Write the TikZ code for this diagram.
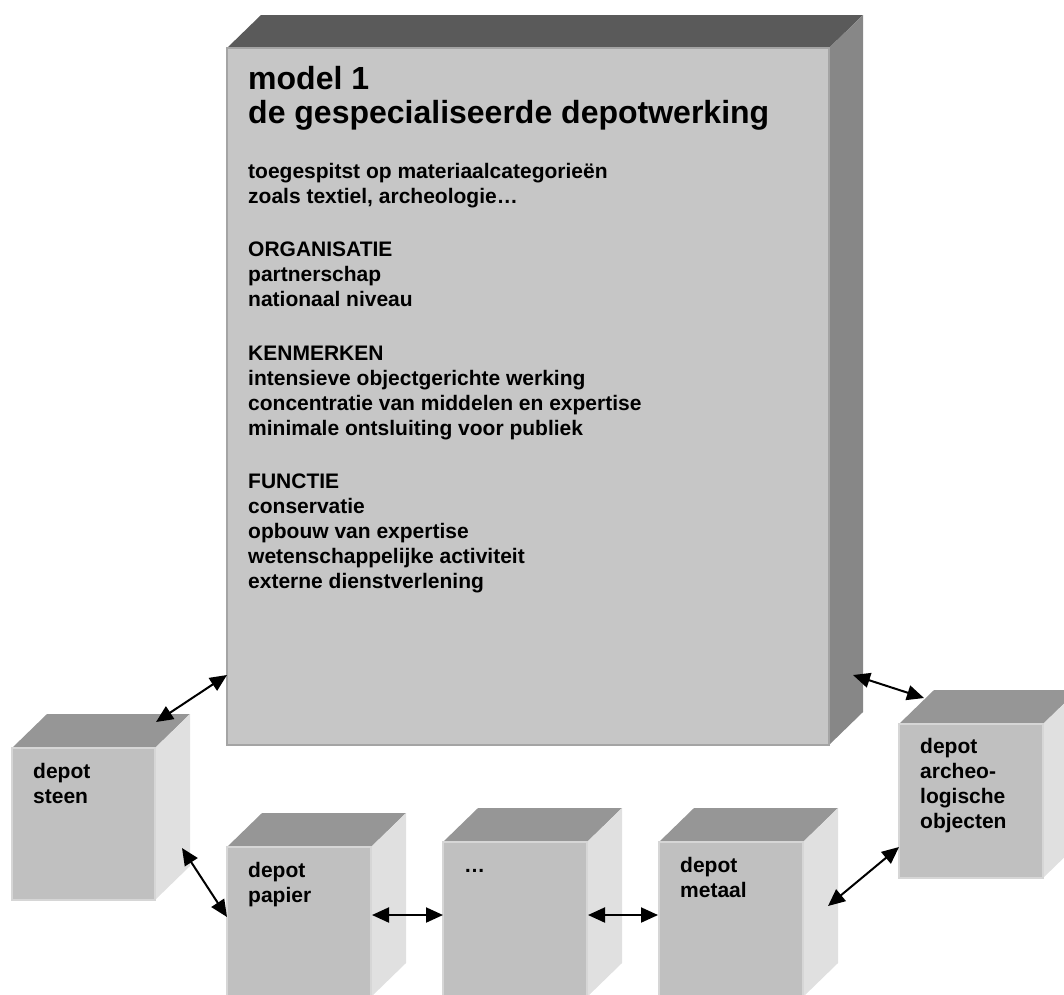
\documentclass[tikz,border=0pt]{standalone}
\usepackage{fontspec}
\setmainfont{Liberation Sans}
\usetikzlibrary{arrows.meta,calc}
\definecolor{bigfrontc}{HTML}{C6C6C6}
\definecolor{bigedgec}{HTML}{A4A4A4}
\definecolor{bigtopc}{HTML}{5A5A5A}
\definecolor{bigsidec}{HTML}{878787}
\definecolor{smfrontc}{HTML}{C0C0C0}
\definecolor{smedgec}{HTML}{D6D6D6}
\definecolor{smtopc}{HTML}{969696}
\definecolor{smsidec}{HTML}{E0E0E0}
% #7 = baseline of the last text line
\newcommand\depotbox[7]{%
  \fill[smtopc] (#2,#3) -- ++(35,-34) -- ++(#4,0) -- ++(-35,34) -- cycle;
  \fill[smsidec] (#2+#4,#3) -- ++(35,-34) -- ++(0,#5) -- ++(-35,34) -- cycle;
  \node[smallfront, minimum width=#4pt, minimum height=#5pt] (#1) at (#2,#3) {};
  \node[smalltext] (#1-t) at (#2+21,#7) {#6};
}
\begin{document}
\begin{tikzpicture}[x=1pt,y=-1pt,
  bigfront/.style={fill=bigfrontc, draw=bigedgec, line width=1.2pt, inner sep=0pt, outer sep=0pt, anchor=north west},
  smallfront/.style={fill=smfrontc, draw=smedgec, line width=1.2pt, inner sep=0pt, outer sep=0pt, anchor=north west},
  titletext/.style={anchor=base west, align=left, inner sep=0pt, font=\bfseries\fontsize{32}{34}\selectfont},
  bodytext/.style={anchor=base west, align=left, inner sep=0pt, font=\bfseries\fontsize{21}{25}\selectfont},
  smalltext/.style={anchor=base west, align=left, inner sep=0pt, font=\bfseries\fontsize{21}{25}\selectfont},
  link/.style={{Triangle[length=17pt,width=15pt]}-{Triangle[length=17pt,width=15pt]}, line width=2pt, black}
]
\useasboundingbox (0,0) rectangle (1064,994);
% big box
\fill[bigtopc] (227,48) -- ++(34,-33) -- ++(602,0) -- ++(-34,33) -- cycle;
\fill[bigsidec] (829,48) -- ++(34,-33) -- ++(0,697) -- ++(-34,33) -- cycle;
\node[bigfront, minimum width=602pt, minimum height=697pt] (big) at (227,48) {};
% texts (positioned by the baseline of their last line)
\node[titletext] (title) at (248,123) {model 1\\de gespecialiseerde depotwerking};
\node[bodytext] (b1) at (248,203) {toegespitst op materiaalcategorieën\\zoals textiel, archeologie…};
\node[bodytext] (b2) at (248,306) {ORGANISATIE\\partnerschap\\nationaal niveau};
\node[bodytext] (b3) at (248,435) {KENMERKEN\\intensieve objectgerichte werking\\concentratie van middelen en expertise\\minimale ontsluiting voor publiek};
\node[bodytext] (b4) at (248,588) {FUNCTIE\\conservatie\\opbouw van expertise\\wetenschappelijke activiteit\\externe dienstverlening};
% small boxes
\depotbox{steen}{12}{748}{143}{152}{depot\\steen}{803}
\depotbox{papier}{227}{847}{144}{150}{depot\\papier}{902}
\depotbox{dots}{443}{842}{144}{155}{…}{872}
\depotbox{metaal}{659}{842}{144}{155}{depot\\metaal}{897}
\depotbox{archeo}{899}{724}{144}{154}{depot\\archeo-\\logische\\objecten}{828}
% connectors
\draw[link] ($(big.north west)+(0,627)$) -- ($(steen.north east)+(1,-26)$);
\draw[link] ($(steen.north east)+(27,100)$) -- ($(papier.north west)+(0,70)$);
\draw[link] ($(papier.north east)+(1,68)$) -- ($(dots.north west)+(0,73)$);
\draw[link] ($(dots.north east)+(1,73)$) -- ($(metaal.north west)+(-1,73)$);
\draw[link] ($(metaal.north east)+(25,64)$) -- ($(archeo.north west)+(0,123)$);
\draw[link] ($(big.north east)+(24,627)$) -- ($(archeo.north west)+(25,-26)$);
\end{tikzpicture}
\end{document}
